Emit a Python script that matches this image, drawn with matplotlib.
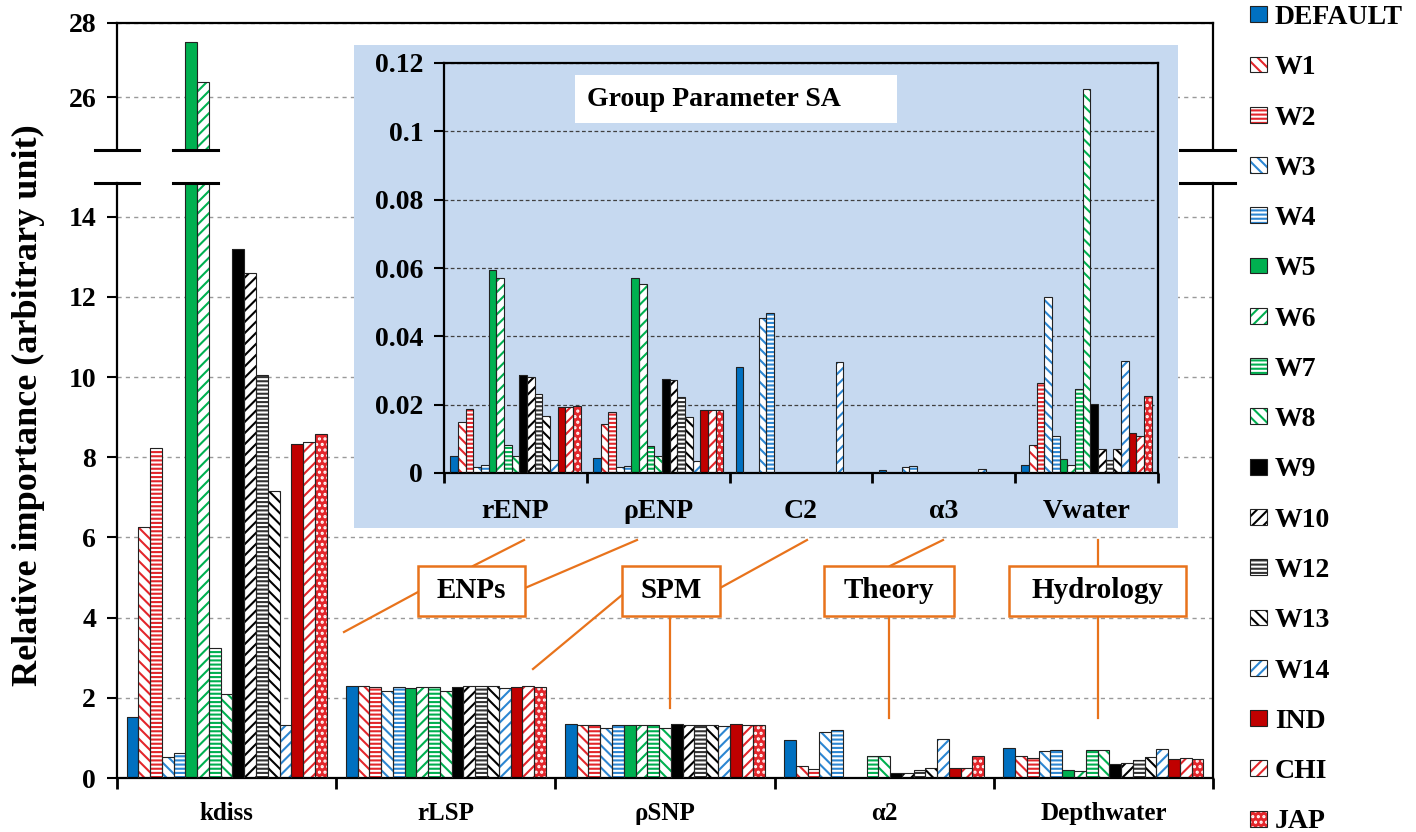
import numpy as np
import matplotlib.pyplot as plt
from matplotlib.patches import Rectangle
from matplotlib.lines import Line2D
from matplotlib.ticker import FuncFormatter
import matplotlib.transforms as mtransforms

plt.rcParams['font.family'] = ['Liberation Serif', 'DejaVu Serif']
plt.rcParams['font.weight'] = 'bold'
plt.rcParams['hatch.linewidth'] = 1.5

# series (one bar per scenario in every group)
series = ['DEFAULT', 'W1', 'W2', 'W3', 'W4', 'W5', 'W6', 'W7', 'W8', 'W9',
          'W10', 'W12', 'W13', 'W14', 'IND', 'CHI', 'JAP']

# main chart
main_params = ['kdiss', 'rLSP', 'ρSNP', 'α2', 'Depthwater']
kdiss = [1.53, 6.25, 8.22, 0.52, 0.63, 27.5, 26.4, 3.23, 2.09, 13.2,
         12.6, 10.05, 7.16, 1.32, 8.32, 8.38, 8.59]
rlsp = [2.29, 2.29, 2.27, 2.16, 2.26, 2.24, 2.26, 2.26, 2.17, 2.27,
        2.30, 2.30, 2.29, 2.24, 2.27, 2.30, 2.27]
rho_snp = [1.34, 1.33, 1.33, 1.25, 1.33, 1.33, 1.33, 1.33, 1.25, 1.34,
           1.33, 1.33, 1.33, 1.29, 1.34, 1.33, 1.33]
alpha2 = [0.96, 0.30, 0.23, 1.15, 1.19, 0.0, 0.0, 0.56, 0.56, 0.12,
          0.13, 0.19, 0.25, 0.98, 0.25, 0.25, 0.54]
depthwater = [0.74, 0.56, 0.49, 0.67, 0.69, 0.21, 0.18, 0.69, 0.71, 0.36,
              0.38, 0.44, 0.53, 0.73, 0.47, 0.49, 0.47]

# inset (group parameter SA)
inset_params = ['rENP', 'ρENP', 'C2', 'α3', 'Vwater']
renp = [0.0049, 0.0149, 0.0187, 0.0018, 0.0024, 0.0595, 0.0572, 0.0082, 0.0051,
        0.0287, 0.0280, 0.0231, 0.0168, 0.0039, 0.0192, 0.0192, 0.0195]
rho_enp = [0.0044, 0.0144, 0.0179, 0.0018, 0.0021, 0.0572, 0.0553, 0.0080, 0.0051,
           0.0275, 0.0271, 0.0222, 0.0163, 0.0034, 0.0183, 0.0185, 0.0185]
c2 = [0.0309, 0, 0, 0.0454, 0.0468, 0, 0, 0, 0,
      0, 0, 0, 0, 0.0325, 0, 0, 0]
alpha3 = [0.0010, 0, 0, 0.0017, 0.0020, 0, 0, 0, 0,
          0, 0, 0, 0, 0.0012, 0, 0, 0]
vwater = [0.0023, 0.0081, 0.0262, 0.0515, 0.0107, 0.0040, 0.0022, 0.0245, 0.1125,
          0.0203, 0.0071, 0.0038, 0.0069, 0.0329, 0.0116, 0.0109, 0.0225]

main_vals = np.array([kdiss, rlsp, rho_snp, alpha2, depthwater])
inset_vals = np.array([renp, rho_enp, c2, alpha3, vwater])

# bar styles: face, hatch, hatch colour
RED = '#E3262B'
BLUE = '#2C86D2'
GREEN = '#00B050'
styles = [
    ('#0070C0', None, '#0070C0'),
    ('white', '\\\\\\', RED),
    ('white', '----', RED),
    ('white', '\\\\\\', BLUE),
    ('white', '----', BLUE),
    (GREEN, None, GREEN),
    ('white', '///', GREEN),
    ('white', '----', GREEN),
    ('white', '\\\\\\', GREEN),
    ('black', None, 'black'),
    ('white', '///', 'black'),
    ('white', '----', '#333333'),
    ('white', '\\\\\\', 'black'),
    ('white', '///', BLUE),
    ('#C00000', None, '#C00000'),
    ('white', '///', RED),
    (RED, '...', 'white'),
]

SPAN = 0.913
W = 1416
H = 832


def px_rect(left, top, right, bottom):
    return [left / W, 1 - bottom / H, (right - left) / W, (bottom - top) / H]


def fx(x):
    return x / W


def fy(y):
    return 1 - y / H


def draw_bars(ax, values):
    n = len(series)
    bw = SPAN / n
    x = np.arange(values.shape[0])
    handles = []
    for i in range(n):
        face, hatch, hcol = styles[i]
        pos = x - SPAN / 2 + (i + 0.5) * bw
        b1 = ax.bar(pos, values[:, i], bw, color=face, edgecolor=hcol,
                    hatch=hatch, linewidth=0, zorder=2)
        b2 = ax.bar(pos, values[:, i], bw, fill=False, edgecolor='#222222',
                    linewidth=0.8, zorder=3)
        handles.append((b1, b2))
    return handles


fig = plt.figure(figsize=(W / 100, H / 100), dpi=100)

ax_lo = fig.add_axes(px_rect(117, 183, 1213, 778))
ax_hi = fig.add_axes(px_rect(117, 23, 1213, 150))

handles = draw_bars(ax_lo, main_vals)
draw_bars(ax_hi, main_vals)

grid_kw = dict(linestyle=(0, (3, 3)), color='#9A9A9A', linewidth=1.0)
for ax in (ax_lo, ax_hi):
    ax.set_xlim(-0.5, 4.5)
    ax.yaxis.grid(True, **grid_kw)
    ax.set_axisbelow(True)
    for s in ax.spines.values():
        s.set_linewidth(1.6)
    ax.tick_params(axis='y', direction='out', length=7, width=1.5,
                   labelsize=20, pad=8)

ax_lo.set_ylim(0, 14.84)
ax_lo.set_yticks(np.arange(0, 15, 2))
ax_lo.spines['top'].set_visible(False)
ax_lo.set_xticks(np.arange(-0.5, 5, 1))
ax_lo.set_xticklabels([])
ax_lo.set_xticks(np.arange(5), minor=True)
ax_lo.set_xticklabels(main_params, minor=True)
ax_lo.tick_params(axis='x', which='major', direction='out', length=8, width=2)
ax_lo.tick_params(axis='x', which='minor', length=0, labelsize=18, pad=17)

ax_hi.set_ylim(24.57, 28)
ax_hi.set_yticks([26, 28])
ax_hi.spines['bottom'].set_visible(False)
ax_hi.set_xticks([])

# axis break marks
brk = dict(color='black', linewidth=2.2, clip_on=False, zorder=5)
for ax, yy in ((ax_hi, 0), (ax_lo, 1)):
    ax.add_line(Line2D([-0.02, 0.02], [yy, yy], transform=ax.transAxes, **brk))
    ax.add_line(Line2D([0.97, 1.02], [yy, yy], transform=ax.transAxes, **brk))
    tr = mtransforms.blended_transform_factory(ax.transData, ax.transAxes)
    ax.add_line(Line2D([-0.245, -0.039], [yy, yy], transform=tr, **brk))

fig.text(fx(28), fy(405), 'Relative importance (arbitrary unit)', rotation=90,
         ha='center', va='center', fontsize=26)

# inset background + axes
fig.patches.append(Rectangle((fx(354), fy(528)), (1178 - 354) / W, (528 - 45) / H,
                             transform=fig.transFigure, facecolor='#C6D9F0',
                             edgecolor='none', zorder=1))
ax_in = fig.add_axes(px_rect(444, 63, 1158, 473), zorder=2)
ax_in.set_facecolor('none')
draw_bars(ax_in, inset_vals)
ax_in.set_xlim(-0.5, 4.5)
ax_in.set_ylim(0, 0.12)
ax_in.set_yticks(np.arange(0, 0.121, 0.02))
ax_in.yaxis.set_major_formatter(FuncFormatter(lambda v, p: f'{v:g}'))
ax_in.yaxis.grid(True, linestyle=(0, (3, 2)), color='#404040', linewidth=0.9)
ax_in.set_axisbelow(True)
for s in ax_in.spines.values():
    s.set_linewidth(1.6)
ax_in.tick_params(axis='y', direction='out', length=7, width=1.5, labelsize=20, pad=8)
ax_in.set_xticks(np.arange(-0.5, 5, 1))
ax_in.set_xticklabels([])
ax_in.set_xticks(np.arange(5), minor=True)
ax_in.set_xticklabels(inset_params, minor=True)
ax_in.tick_params(axis='x', which='major', direction='out', length=7, width=2)
ax_in.tick_params(axis='x', which='minor', length=0, labelsize=20, pad=19)

ax_in.add_patch(Rectangle((0.183, 0.854), 0.451, 0.117, transform=ax_in.transAxes,
                          facecolor='white', edgecolor='none', zorder=4))
ax_in.text(0.2, 0.912, 'Group Parameter SA', transform=ax_in.transAxes,
           ha='left', va='center', fontsize=20, zorder=5)

# orange call-outs
ORANGE = '#E8731C'
boxes = [('ENPs', 418, 566, 525, 616), ('SPM', 622, 566, 720, 616),
         ('Theory', 824, 566, 954, 616), ('Hydrology', 1009, 566, 1186, 616)]
links = [((473, 566), (524, 540)), ((525, 588), (637, 540)), ((418, 592), (344, 632)),
         ((622, 595), (533, 669)), ((720, 588), (807, 540)), ((670, 616), (670, 708)),
         ((890, 566), (943, 540)), ((889, 616), (889, 718)),
         ((1098, 566), (1098, 540)), ((1098, 616), (1098, 718))]
for (x0, y0), (x1, y1) in links:
    fig.lines.append(Line2D([fx(x0), fx(x1)], [fy(y0), fy(y1)], transform=fig.transFigure,
                            color=ORANGE, linewidth=1.6, zorder=3))
for label, l, t, r, b in boxes:
    fig.patches.append(Rectangle((fx(l), fy(b)), (r - l) / W, (b - t) / H,
                                 transform=fig.transFigure, facecolor='white',
                                 edgecolor=ORANGE, linewidth=1.8, zorder=4))
    fig.text(fx((l + r) / 2), fy((t + b) / 2), label, ha='center', va='center',
             fontsize=21, zorder=5)

fig.legend(handles, series, loc='upper left', bbox_to_anchor=(fx(1250), fy(5)),
           frameon=False, fontsize=20, handlelength=0.6, handleheight=0.5,
           handletextpad=0.3, labelspacing=0.91, borderpad=0, borderaxespad=0)

fig.savefig('out.png', dpi=100)
